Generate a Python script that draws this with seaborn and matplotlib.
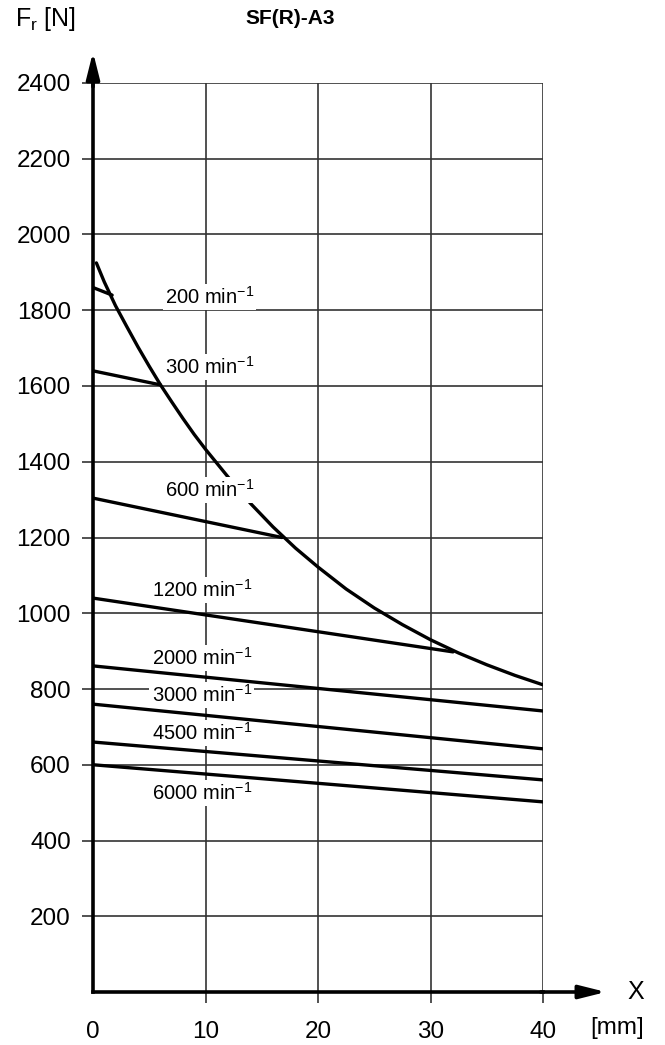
import matplotlib
matplotlib.use('Agg')
import matplotlib.pyplot as plt
import seaborn as sns
import pandas as pd

# Straight lines per speed: start (x0, y0) -> end (x1, y1)
speeds = ['200', '300', '600', '1200', '2000', '3000', '4500', '6000']
line_x0 = [0, 0, 0, 0, 0, 0, 0, 0]
line_x1 = [1.7, 6.0, 16.8, 32.0, 40, 40, 40, 40]
line_y0 = [1860, 1640, 1304, 1040, 861, 760, 660, 600]
line_y1 = [1840, 1603, 1200, 898, 742, 642, 560, 502]

# label anchors (left edge, centre)
label_x = [6.4, 6.4, 6.4, 5.2, 5.2, 5.2, 5.2, 5.2]
label_y = [1835, 1650, 1326, 1062, 882, 784, 684, 526]

# limit curve
limit_x = [0.3, 1, 2, 3, 4, 5, 6, 7, 8, 9, 10, 12, 14, 16, 18, 20,
           22.5, 25, 27.5, 30, 32.5, 35, 37.5, 40]
limit_y = [1925, 1875, 1812, 1757, 1703, 1652, 1603, 1558, 1514, 1472, 1433,
           1360, 1290, 1228, 1172, 1122, 1064, 1014, 970, 930, 895, 864, 836, 811]

x_ticks = [0, 10, 20, 30, 40]
y_ticks = [200, 400, 600, 800, 1000, 1200, 1400, 1600, 1800, 2000, 2200, 2400]


def main():
    sns.set_theme(style='white')
    plt.rcParams['font.family'] = ['Liberation Sans', 'DejaVu Sans']
    plt.rcParams['mathtext.fontset'] = 'custom'
    plt.rcParams['mathtext.rm'] = 'Liberation Sans'
    plt.rcParams['text.color'] = 'black'

    fig = plt.figure(figsize=(6.65, 10.45), dpi=100)
    ax = fig.add_axes([93 / 665, 1 - 992 / 1045, 450 / 665, 909 / 1045])

    rows = []
    for s, a, b, c, d in zip(speeds, line_x0, line_x1, line_y0, line_y1):
        rows.append({'speed': s, 'x': a, 'force': c})
        rows.append({'speed': s, 'x': b, 'force': d})
    df = pd.DataFrame(rows)
    curve = pd.DataFrame({'x': limit_x, 'force': limit_y})

    sns.lineplot(data=curve, x='x', y='force', color='black', linewidth=2.4,
                 ax=ax, zorder=2, estimator=None, sort=False)
    sns.lineplot(data=df, x='x', y='force', hue='speed', units='speed',
                 palette=['black'] * len(speeds), legend=False, linewidth=2.4,
                 ax=ax, zorder=4, estimator=None, sort=False)

    for s, lx, ly in zip(speeds, label_x, label_y):
        ax.text(lx, ly, s + r' min$^{\mathregular{-1}}$', fontsize=14.5,
                ha='left', va='center', color='black', zorder=3,
                bbox=dict(facecolor='white', edgecolor='none', pad=1.5))

    ax.set_xlim(0, 40)
    ax.set_ylim(0, 2400)
    ax.set_xticks(x_ticks)
    ax.set_yticks(y_ticks)
    ax.set_xlabel('')
    ax.set_ylabel('')
    ax.grid(True, color='#333333', linewidth=1.2)
    ax.set_axisbelow(True)
    ax.tick_params(axis='both', length=8, width=1.2, color='#333333',
                   labelsize=17.5, direction='out', labelcolor='black')
    ax.tick_params(axis='x', pad=13)
    ax.tick_params(axis='y', pad=8)
    ax.tick_params(bottom=True, left=True)
    ax.xaxis.get_major_ticks()[0].tick1line.set_visible(False)

    for side in ['top', 'right']:
        ax.spines[side].set_visible(False)
    for side in ['left', 'bottom']:
        ax.spines[side].set_color('black')
        ax.spines[side].set_linewidth(2.6)
        ax.spines[side].set_zorder(5)

    arrow = dict(arrowstyle='-|>,head_length=1.6,head_width=0.4', lw=2.6,
                 color='black', shrinkA=0, shrinkB=0, mutation_scale=10)
    ax.annotate('', xy=(0, 2482), xytext=(0, 2390), arrowprops=arrow,
                annotation_clip=False, zorder=6)
    ax.annotate('', xy=(45.6, 0), xytext=(39.8, 0), arrowprops=arrow,
                annotation_clip=False, zorder=6)

    ax.text(48.2, 0, 'X', fontsize=18, ha='center', va='center')
    ax.text(46.6, -95, '[mm]', fontsize=17.5, ha='center', va='center')

    fig.text(15 / 665, 1 - 19 / 1045, r'F$_\mathregular{r}$ [N]',
             fontsize=18, ha='left', va='center', color='black')
    fig.text(290 / 665, 1 - 19 / 1045, 'SF(R)-A3', fontsize=15,
             fontweight='bold', ha='center', va='center', color='black')

    fig.savefig('out.png', dpi=100, facecolor='white')


if __name__ == "__main__":
    main()
